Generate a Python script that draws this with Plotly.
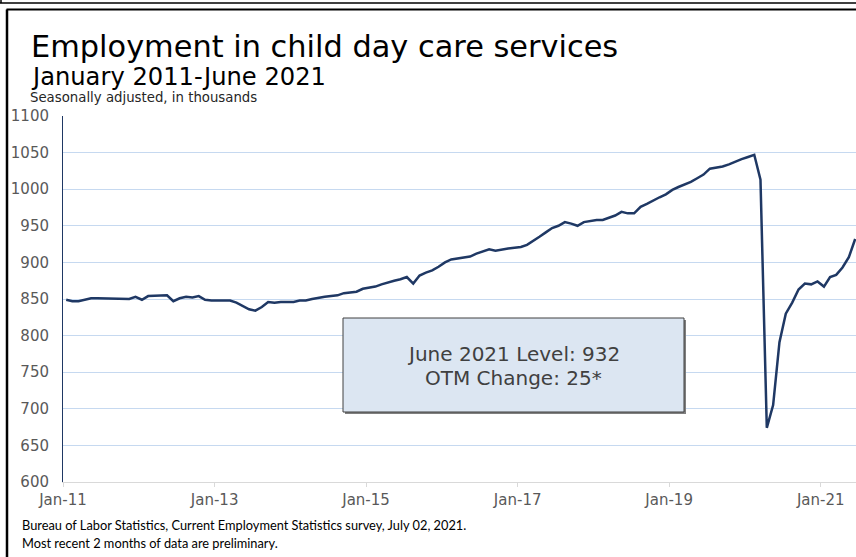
import pandas as pd
import plotly.graph_objects as go

# Monthly employment in child day care services, Jan 2011 - Jun 2021 (thousands, SA)
months = pd.date_range("2011-01-01", "2021-06-01", freq="MS").strftime("%Y-%m-%d").tolist()

values_2011 = [849, 847, 847, 849, 851, 851, 851, 851, 850, 850, 850, 853]
values_2012 = [849, 854, 854, 854, 855, 847, 851, 853, 852, 854, 849, 848]
values_2013 = [848, 849, 848, 845, 841, 836, 834, 839, 846, 845, 846, 846]
values_2014 = [846, 848, 848, 850, 852, 853, 854, 855, 858, 859, 860, 864]
values_2015 = [866, 867, 870, 873, 875, 877, 880, 871, 882, 886, 889, 894]
values_2016 = [900, 904, 905, 906, 908, 912, 915, 918, 916, 918, 919, 920]
values_2017 = [921, 924, 930, 935, 941, 947, 950, 955, 953, 950, 955, 957]
values_2018 = [958, 958, 961, 964, 969, 967, 967, 976, 980, 985, 989, 993]
values_2019 = [999, 1003, 1006, 1010, 1015, 1020, 1028, 1029, 1031, 1034, 1038, 1041]
values_2020 = [1044, 1047, 1013, 674, 705, 791, 830, 845, 863, 871, 870, 874]
values_2021 = [867, 880, 883, 893, 907, 932]

employment = (values_2011 + values_2012 + values_2013 + values_2014 + values_2015 + values_2016
              + values_2017 + values_2018 + values_2019 + values_2020 + values_2021)

title = "Employment in child day care services"
subtitle = "January 2011-June 2021"
units = "Seasonally adjusted, in thousands"
box_lines = ["June 2021 Level: 932", "OTM Change: 25*"]
source_lines = ["Bureau of Labor Statistics, Current Employment Statistics survey, July 02, 2021.",
                "Most recent 2 months of data are preliminary."]

# plot area in pixels: left 63, right 856, top 116, bottom 482
L, R, T, B = 63, 856, 116, 482


def px(x):
    return (x - L) / (R - L)


def py(y):
    return (B - y) / (B - T)


fig = go.Figure()
fig.add_trace(go.Scatter(
    x=months, y=employment, mode="lines",
    xperiod="M1", xperiodalignment="middle",
    line=dict(color="#1f3864", width=2.5),
    showlegend=False, hoverinfo="skip",
))

# text box
fig.add_shape(type="rect", xref="paper", yref="paper",
              x0=px(345), x1=px(686), y0=py(414), y1=py(320),
              fillcolor="#7f7f7f", line=dict(width=0), layer="above")
fig.add_shape(type="rect", xref="paper", yref="paper",
              x0=px(343), x1=px(684), y0=py(412), y1=py(318),
              fillcolor="#dce6f2", line=dict(color="#404040", width=1), layer="above")

# frame lines
frame = dict(color="black", width=1.5)
fig.add_shape(type="line", xref="paper", yref="paper", x0=px(0), x1=px(856), y0=py(3), y1=py(3), line=frame)
fig.add_shape(type="line", xref="paper", yref="paper", x0=px(1), x1=px(1), y0=py(0), y1=py(3), line=frame)
fig.add_shape(type="line", xref="paper", yref="paper", x0=px(6.5), x1=px(856), y0=py(9.5), y1=py(9.5),
              line=dict(color="black", width=2))
fig.add_shape(type="line", xref="paper", yref="paper", x0=px(7), x1=px(7), y0=py(9.5), y1=py(560),
              line=dict(color="black", width=2.5))

notes = [
    (title, px(29), py(47), 30.4, "black", "DejaVu Sans"),
    (subtitle, px(29), py(77), 24.2, "black", "DejaVu Sans"),
    (units, px(28), py(98), 13.3, "#262626", "DejaVu Sans"),
    (source_lines[0], px(20), py(525), 12.8, "black", "Lato"),
    (source_lines[1], px(20), py(543), 12.8, "black", "Lato"),
]
for text, x, y, size, color, family in notes:
    fig.add_annotation(text=text, x=x, y=y, xref="paper", yref="paper",
                       xanchor="left", yanchor="middle", showarrow=False,
                       font=dict(size=size, color=color, family=family))

for text, y in zip(box_lines, [354, 378]):
    fig.add_annotation(text=text, x=px(513.5), y=py(y), xref="paper", yref="paper",
                       xanchor="center", yanchor="middle", showarrow=False,
                       font=dict(size=20, color="#404040", family="DejaVu Sans"))

fig.update_layout(
    width=856, height=557,
    margin=dict(l=L, r=856 - R, t=T, b=557 - B, pad=0),
    paper_bgcolor="white", plot_bgcolor="white",
    xaxis=dict(
        type="date", range=["2011-01-01", "2021-06-20"],
        tick0="2011-01-01", dtick="M24", tickformat="%b-%y",
        showgrid=False, showline=True, linecolor="#d9d9d9", linewidth=1,
        ticks="outside", ticklen=4, tickcolor="#d9d9d9",
        tickfont=dict(family="DejaVu Sans", size=15, color="#595959"),
    ),
    yaxis=dict(
        range=[600, 1100], dtick=50, tick0=600,
        showgrid=True, gridcolor="#c6d9f0", gridwidth=1,
        showline=True, linecolor="#1f3864", linewidth=1,
        ticks="", ticklabelstandoff=10, zeroline=False,
        tickfont=dict(family="DejaVu Sans", size=15, color="#595959"),
    ),
)

# drop the page's default body margin so the figure sits at the window's top-left corner
fig.write_html("out.html", config={"displayModeBar": False},
               post_script="document.body.style.margin = '0px';")
